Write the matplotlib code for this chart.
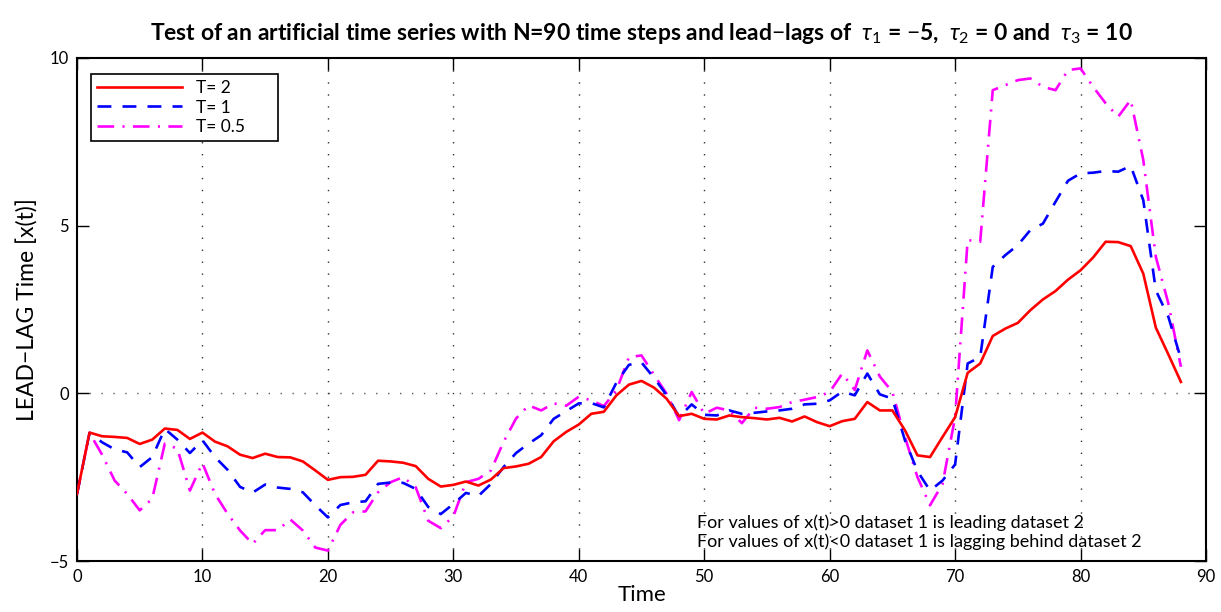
import matplotlib
matplotlib.use("Agg")
import matplotlib.pyplot as plt

plt.rcParams['font.family'] = ['Lato', 'DejaVu Sans']
plt.rcParams['mathtext.fontset'] = 'custom'
plt.rcParams['mathtext.rm'] = 'Lato'
plt.rcParams['mathtext.it'] = 'Lato:italic'
plt.rcParams['mathtext.bf'] = 'Lato:bold'
plt.rcParams['lines.scale_dashes'] = False

time = list(range(89))

t2 = [-3.00, -1.17, -1.28, -1.30, -1.33, -1.51, -1.38, -1.05, -1.09, -1.36,
      -1.17, -1.44, -1.58, -1.83, -1.93, -1.80, -1.90, -1.91, -2.03, -2.30,
      -2.58, -2.50, -2.49, -2.43, -2.01, -2.03, -2.07, -2.17, -2.55, -2.78,
      -2.73, -2.63, -2.75, -2.57, -2.23, -2.18, -2.10, -1.90, -1.43, -1.15,
      -0.93, -0.61, -0.55, -0.06, 0.26, 0.37, 0.17, -0.16, -0.68, -0.61,
      -0.76, -0.78, -0.66, -0.71, -0.74, -0.78, -0.73, -0.84, -0.69, -0.86,
      -0.98, -0.83, -0.76, -0.26, -0.51, -0.51, -1.10, -1.85, -1.90, -1.30,
      -0.71, 0.61, 0.89, 1.71, 1.93, 2.10, 2.48, 2.80, 3.05, 3.39,
      3.67, 4.05, 4.52, 4.51, 4.39, 3.57, 1.96, 1.16, 0.34]

t1 = [-3.00, -1.18, -1.46, -1.67, -1.76, -2.20, -1.90, -1.06, -1.38, -1.78,
      -1.40, -1.90, -2.28, -2.79, -2.96, -2.72, -2.81, -2.85, -2.95, -3.34,
      -3.70, -3.33, -3.25, -3.22, -2.70, -2.66, -2.67, -2.85, -3.39, -3.60,
      -3.30, -2.97, -3.06, -2.70, -2.20, -1.78, -1.50, -1.25, -0.76, -0.53,
      -0.30, -0.29, -0.42, 0.32, 0.85, 0.92, 0.46, -0.05, -0.70, -0.33,
      -0.64, -0.66, -0.51, -0.61, -0.58, -0.54, -0.51, -0.46, -0.33, -0.31,
      -0.21, 0.05, -0.06, 0.59, -0.03, -0.16, -1.40, -2.32, -2.90, -2.60,
      -2.12, 0.89, 1.08, 3.77, 4.12, 4.42, 4.87, 5.06, 5.71, 6.34,
      6.56, 6.58, 6.63, 6.61, 6.78, 5.76, 3.07, 2.28, 1.03]

t05 = [-3.00, -1.18, -1.83, -2.60, -3.00, -3.49, -3.14, -1.50, -1.65, -2.90,
       -2.08, -3.00, -3.59, -4.09, -4.49, -4.08, -4.08, -3.76, -4.09, -4.60,
       -4.69, -3.92, -3.55, -3.52, -2.95, -2.65, -2.50, -2.80, -3.80, -4.02,
       -3.67, -2.65, -2.55, -2.30, -1.45, -0.75, -0.36, -0.51, -0.30, -0.37,
       -0.10, -0.21, -0.38, 0.09, 1.08, 1.13, 0.55, -0.01, -0.80, 0.04,
       -0.61, -0.43, -0.51, -0.89, -0.43, -0.46, -0.41, -0.26, -0.19, -0.11,
       0.04, 0.59, 0.10, 1.28, 0.50, 0.04, -1.30, -2.50, -3.34, -2.70,
       -0.71, 4.57, 4.52, 9.04, 9.19, 9.34, 9.39, 9.14, 9.04, 9.64,
       9.69, 9.14, 8.65, 8.25, 8.75, 6.96, 4.07, 2.68, 0.79]

labels = ["T= 2", "T= 1", "T= 0.5"]
xticks = [0, 10, 20, 30, 40, 50, 60, 70, 80, 90]
yticks = [-5, 0, 5, 10]

fig = plt.figure(figsize=(12.21, 6.12), dpi=100)
ax = fig.add_axes([77/1221, 1-561/612, (1206-77)/1221, (561-58)/612])

l1, = ax.plot(time, t2, color=(1, 0, 0), lw=1.9, zorder=4)
l2, = ax.plot(time, t1, color=(0, 0, 1), lw=1.9, dashes=(10, 8), zorder=3)
l3, = ax.plot(time, t05, color=(1, 0, 1), lw=1.9, dashes=(12, 6, 1.5, 6), zorder=2)

ax.axhline(0, color='0.35', lw=1.0, linestyle=(0, (1.0, 7.6)), zorder=1)
for xt in xticks[1:-1]:
    ax.axvline(xt, color='0.2', lw=1.0, linestyle=(0, (1.0, 7.6)), zorder=1)

ax.set_xlim(0, 90)
ax.set_ylim(-5, 10)
ax.set_xticks(xticks)
ax.set_yticks(yticks)
ax.set_xticklabels([str(v) for v in xticks])
ax.set_yticklabels(["\u22125", "0", "5", "10"])
ax.tick_params(direction='in', length=8.5, width=1.0, top=True, right=True,
               labelsize=12, pad=6)
for s in ax.spines.values():
    s.set_linewidth(1.5)

ax.set_xlabel("Time", fontsize=16, labelpad=0)
ax.set_ylabel("LEAD\u2212LAG Time [x(t)]", fontsize=16.5, labelpad=8)

ax.set_title(r"Test of an artificial time series with N=90 time steps and lead$-$lags of  $\tau_{1}$ = $-$5,  $\tau_{2}$ = 0 and  $\tau_{3}$ = 10",
             fontsize=16.5, fontweight='bold', pad=13)

leg = ax.legend([l1, l2, l3], [lab + "      " for lab in labels],
                loc='upper left', bbox_to_anchor=(14/1129, 1-16/503), fontsize=12.5,
                frameon=True, fancybox=False, edgecolor='black', framealpha=1,
                handlelength=4.9, borderpad=0.35, labelspacing=0.2,
                handletextpad=0.8, borderaxespad=0)
leg.get_frame().set_linewidth(1.2)

ax.text(0.549, 0.022, "For values of x(t)>0 dataset 1 is leading dataset 2\nFor values of x(t)<0 dataset 1 is lagging behind dataset 2",
        transform=ax.transAxes, fontsize=13, ha='left', va='bottom', linespacing=1.2)

fig.savefig("out.png", dpi=100)
